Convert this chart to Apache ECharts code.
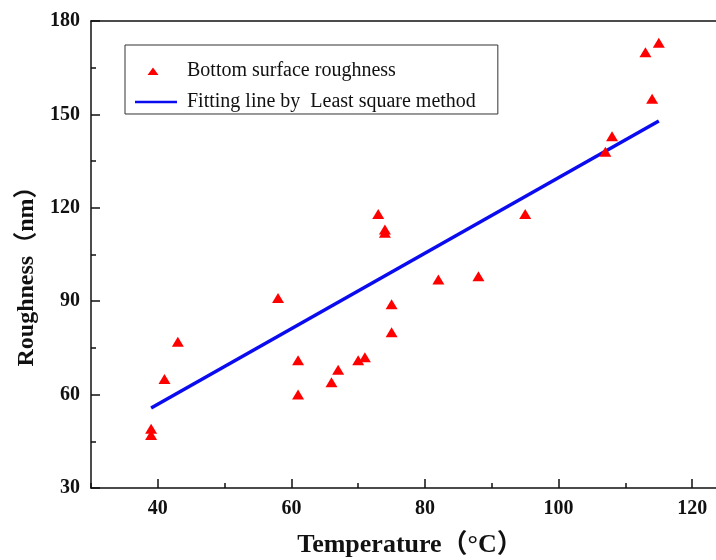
<!DOCTYPE html>
<html>
<head>
<meta charset="utf-8">
<script src="https://cdn.jsdelivr.net/npm/echarts@6/dist/echarts.min.js"></script>
<style>
  html, body { margin: 0; padding: 0; background: #fff; overflow: hidden; }
  /* the plot runs past the right edge of the picture, so the chart is wider than the window */
  #main { width: 759px; height: 560px; }
</style>
</head>
<body>
<div id="main"></div>
<script>
// measured points (temperature, roughness)
var temperature = [39, 39, 41, 43, 58, 61, 61, 66, 67, 70, 71, 73, 74, 74, 75, 75, 82, 88, 95, 107, 108, 113, 114, 115];
var roughness   = [49, 47, 65, 77, 91, 71, 60, 64, 68, 71, 72, 118, 113, 112, 89, 80, 97, 98, 118, 138, 143, 170, 155, 173];
// fitted line end points
var fitX = [39, 115];
var fitY = [55.7, 147.9];

var xMin = 30, xMax = 130;
var yTicks = [30, 60, 90, 120, 150, 180];

var pointName = 'Bottom surface roughness';
var lineName = 'Fitting line by  Least square method';

var serif = '"Liberation Serif", "Times New Roman", "Noto Sans CJK SC", serif';

var points = temperature.map(function(t, i) { return [t, roughness[i]]; });
var fitLine = fitX.map(function(t, i) { return [t, fitY[i]]; });

var myChart = echarts.init(document.getElementById('main'));

var chartWidth = 759;
var gridLeft = 91;
var scale = (chartWidth - gridLeft) / (xMax - xMin);

// legend icons drawn in a 42x10 box (tiny corner dots keep the box size)
var corners = 'M0,0 L0.05,0 L0.05,0.05 Z M42,10 L41.95,10 L41.95,9.95 Z ';
var triIcon = 'path://' + corners + 'M12.5,9 L18,1.5 L23.5,9 Z';
var lineIcon = 'path://' + corners + 'M0,3.8 L42,3.8 L42,6.2 L0,6.2 Z';

var option = {
    animation: false,
    grid: [
        {left: gridLeft, right: 0, top: 21, bottom: 72, outerBoundsMode: 'none'},
        // only carries the longer x ticks at 40, 60, ... 120
        {left: gridLeft + (40 - xMin) * scale, right: 0, top: 21, bottom: 72, outerBoundsMode: 'none'}
    ],
    legend: {
        orient: 'vertical',
        left: 125,
        top: 45,
        borderColor: '#333',
        borderWidth: 1,
        padding: [16, 22, 2, 10],
        itemWidth: 42,
        itemHeight: 10,
        itemGap: 11,
        textStyle: {fontFamily: serif, fontSize: 20, color: '#111', padding: [0, 0, 0, 5]},
        data: [
            {name: pointName, icon: triIcon},
            {name: lineName, icon: lineIcon}
        ]
    },
    xAxis: [
        {
            type: 'value', gridIndex: 0, min: xMin, max: xMax, interval: 10,
            name: 'Temperature（°C）', nameLocation: 'middle', nameGap: 44,
            nameTextStyle: {fontFamily: serif, fontSize: 26, fontWeight: 'bold', color: '#111',
                            padding: [0, 30, 0, 0]},
            axisLine: {show: true, lineStyle: {color: '#111', width: 1.5}},
            axisTick: {show: true, inside: true, length: 5, lineStyle: {color: '#111', width: 1.5}},
            axisLabel: {
                fontFamily: serif, fontSize: 20, fontWeight: 'bold', color: '#111', margin: 11,
                formatter: function(v) { return (v % 20 === 0) ? v : ''; }
            },
            splitLine: {show: false}
        },
        {
            type: 'value', gridIndex: 0, position: 'top', min: xMin, max: xMax,
            axisLine: {show: true, lineStyle: {color: '#111', width: 1.5}},
            axisTick: {show: false}, axisLabel: {show: false}, splitLine: {show: false}
        },
        {
            type: 'value', gridIndex: 1, min: 40, max: xMax, interval: 20,
            axisLine: {show: false},
            axisTick: {show: true, inside: true, length: 9, lineStyle: {color: '#111', width: 1.5}},
            axisLabel: {show: false}, splitLine: {show: false}
        }
    ],
    yAxis: [
        {
            type: 'value', gridIndex: 0, min: yTicks[0], max: yTicks[yTicks.length - 1], interval: 30,
            name: 'Roughness（nm）', nameLocation: 'middle', nameGap: 50, nameRotate: 90,
            nameTextStyle: {fontFamily: serif, fontSize: 24, fontWeight: 'bold', color: '#111',
                            padding: [0, 32, 0, 0]},
            axisLine: {show: true, lineStyle: {color: '#111', width: 1.5}},
            axisTick: {show: true, inside: true, length: 9, lineStyle: {color: '#111', width: 1.5}},
            minorTick: {show: true, splitNumber: 2, length: 5, lineStyle: {color: '#111', width: 1.5}},
            axisLabel: {fontFamily: serif, fontSize: 20, fontWeight: 'bold', color: '#111', margin: 11},
            splitLine: {show: false}
        },
        {
            type: 'value', gridIndex: 1, min: yTicks[0], max: yTicks[yTicks.length - 1], show: false
        }
    ],
    series: [
        {
            name: lineName,
            type: 'line',
            xAxisIndex: 0, yAxisIndex: 0,
            data: fitLine,
            symbol: 'none',
            color: '#0b0bf0',
            lineStyle: {color: '#0b0bf0', width: 3.5},
            z: 2
        },
        {
            name: pointName,
            type: 'scatter',
            xAxisIndex: 0, yAxisIndex: 0,
            data: points,
            symbol: 'triangle',
            symbolSize: [12, 10],
            itemStyle: {color: '#ff0000', opacity: 1},
            z: 3
        }
    ]
};

myChart.setOption(option);
</script>
</body>
</html>
